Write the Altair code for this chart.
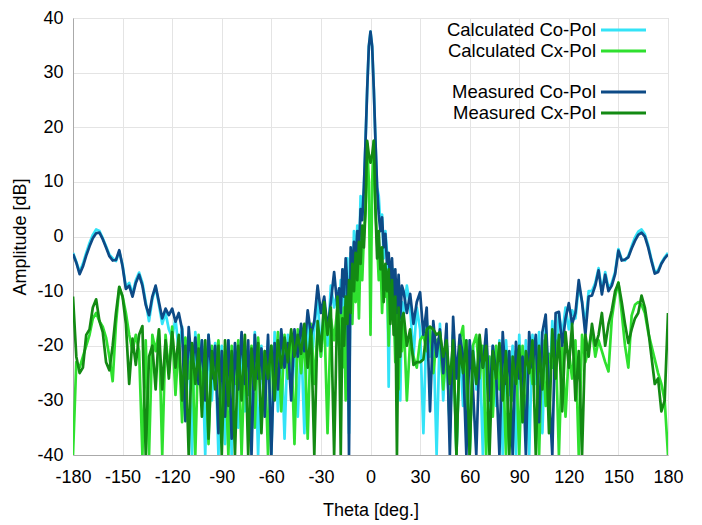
import altair as alt
import pandas as pd

# theta grid: -180..-20 step 2, -19..19 step 1, 20..180 step 2
theta_left = list(range(-180, -19, 2))
theta_mid = list(range(-19, 20, 1))
theta_right = list(range(20, 181, 2))

# Measured Co-Pol
mco_left = [-3.2, -4.8, -6.9, -5.5, -3.5, -1.8, -0.3, 0.6, 0.7, -0.5,
            -2.0, -3.6, -4.4, -4.3, -2.5, -5.5, -9.6, -9.0, -11.0, -8.5,
            -7.0, -9.0, -12.5, -14.4, -11.0, -9.0, -12.0, -15.0, -13.2, -14.4,
            -13.2, -15.6, -14.0, -17.0, -33.8, -16.6, -24.0, -18.5, -27.0, -19.0,
            -30.0, -18.0, -26.0, -20.0, -36.0, -21.0, -33.0, -19.0, -37.0, -19.5,
            -28.0, -17.5, -27.0, -19.0, -40.0, -18.0, -26.0, -20.5, -33.0, -18.0,
            -40.0, -19.5, -28.0, -17.0, -24.0, -19.5, -30.0, -17.0, -22.0, -16.0,
            -21.0, -13.5, -18.0, -15.5, -9.0, -14.0, -11.0, -17.0, -12.0, -6.5,
            -13.0]
mco_mid = [-9.5, -14, -6, -11, -4, -9, -40, -2, -7, -1,
           -5, 1, -3, 5, 3, 9, 17.5, 27, 34.8, 37.5,
           34.8, 27, 17.5, 9, 4, 1, 3.5, -2, 0.5, -5,
           -3, -9, -4, -11, -6, -14, -7, -15, -9]
mco_right = [-10, -14, -10.5, -16, -12, -10.2, -18, -13, -32, -15.5,
             -22, -17, -25, -16, -40, -14.7, -26, -18, -22, -40,
             -19, -28, -40, -20, -24, -17, -30, -20, -25, -40,
             -17.5, -27, -21, -40, -19.3, -26, -22, -40, -17.5, -24,
             -18, -34, -17.5, -14.3, -28, -40, -14, -13.8, -20, -15,
             -12.2, -16, -14, -8, -12, -18, -11, -10.8, -9, -6.2,
             -10.6, -7, -10, -9, -6.9, -2.6, -4.4, -4.2, -3.8, -2.2,
             -0.8, 0.3, 0.7, 0, -2, -4.5, -6.8, -6.5, -5, -4,
             -3.3]

# Calculated Co-Pol
cco_left = [-3.0, -4.6, -6.5, -5.0, -3.0, -1.2, 0.3, 1.3, 1.0, -0.3,
            -1.8, -3.3, -4.0, -4.5, -2.8, -5.2, -9.3, -8.5, -10.5, -8.0,
            -6.6, -8.5, -12.0, -15.5, -11.5, -9.2, -12.5, -16.0, -14.0, -17.0,
            -18.5, -15.0, -21.0, -16.5, -24.0, -19.0, -40.0, -17.5, -26.0, -19.0,
            -40.0, -18.0, -30.0, -19.5, -40.0, -20.0, -38.0, -19.0, -40.0, -20.0,
            -35.0, -18.0, -32.0, -21.0, -35.0, -17.5, -40.0, -20.0, -30.0, -19.0,
            -40.0, -17.5, -32.0, -19.0, -37.0, -18.0, -27.0, -20.0, -33.0, -18.0,
            -36.0, -14.0, -25.0, -17.0, -11.0, -22.0, -12.0, -20.0, -9.0, -13.0,
            -10.0]
cco_mid = [-16, -8, -22, -6, -14, -4, -36, -3, -12, 1,
           -6, 2, -4, 7.4, 4, 9, 17.5, 27, 34.8, 37.5,
           34.8, 27, 17.5, 9, 7.4, 2, 4, -4, 1, -3,
           -27.5, -5, -9, -6, -20, -11, -9, -30, -12]
cco_right = [-14, -9, -13, -22, -13, -17, -36, -15, -22, -17,
             -40, -16, -30, -18.5, -36, -17.5, -40, -19.5, -31, -19,
             -40, -20, -28, -19.5, -40, -18, -35, -20, -31, -19,
             -40, -19, -29, -20, -40, -18, -34, -19, -40, -18,
             -27, -17.5, -36, -16, -30, -15.5, -24, -14, -18, -13,
             -17, -13.5, -15, -9, -12, -16, -10, -10, -8.5, -5.8,
             -10, -6.5, -9.5, -8.5, -6.5, -2.3, -4.2, -4.4, -3.6, -1.8,
             -0.2, 0.9, 1.3, 0.4, -1.6, -4.2, -6.5, -6.2, -4.8, -3.8,
             -3.0]

# Measured Cx-Pol
mcx_left = [-11, -22, -25, -24, -18, -17, -13, -11.5, -15.5, -17.5,
            -23, -24.5, -20, -14, -9.2, -11, -16, -27, -18.7, -23.5,
            -18, -16.4, -40, -22, -20, -28, -17, -28, -19, -26,
            -17.5, -24, -18, -30, -20, -40, -19.5, -27, -20.5, -33,
            -19, -37, -21, -28, -20, -40, -19, -31, -21, -40,
            -20, -30, -18, -40, -20.5, -28, -19.5, -36, -21, -26,
            -20, -30, -19, -24, -18.5, -23, -17, -22, -18, -21.5,
            -16, -24, -17, -40, -15.5, -21, -12, -18, -13, -40,
            -11]
mcx_mid = [-18, -40, -15, -20, -11, -16, -8, -14, -5, -10,
           -3, -8, -1, -5, 2, -2, 5, 17.5, 15, 13.5,
           15, 17.5, 5, -4, 1, -6, -2, -12, -5, -10,
           -6, -16, -8, -18, -11, -40, -13, -22, -15]
mcx_right = [-14, -20, -17, -23.5, -23, -23, -22.5, -17, -16.5, -17,
             -18, -17.5, -22, -19, -27, -19, -40, -20, -25, -19,
             -40, -21, -27, -18, -24, -20, -40, -21, -26, -19.5,
             -30, -21, -40, -22, -27, -20, -34, -21, -25, -19,
             -40, -20, -28, -18, -36, -17, -26, -18, -32, -17.5,
             -24, -16, -30, -21, -40, -18, -22, -16, -20, -18,
             -14, -20, -16, -13.5, -10, -8.5, -12, -16, -19.5, -17,
             -15, -14, -10.8, -13, -17, -22, -27, -26, -32, -30,
             -14]

# Calculated Cx-Pol
ccx_left = [-40, -23, -24, -22, -20, -18, -15, -14, -15.5, -16.5,
            -18.5, -22, -26.5, -16, -9.3, -11, -14, -18, -21, -18,
            -21, -40, -19, -40, -18, -21, -17.2, -40, -18, -25,
            -16.5, -29, -19, -34, -18.5, -26, -20, -40, -18, -29,
            -20.5, -38, -20, -24, -19, -32, -21, -40, -20, -27,
            -19, -40, -21, -29, -20, -35, -18.5, -26, -21, -40,
            -20, -27, -17.5, -32, -18, -26, -19, -38, -17, -25,
            -18, -37, -16, -27, -17, -22, -14, -36, -15, -19,
            -13]
ccx_mid = [-20, -12, -24, -13, -30, -9, -14, -8, -16, -6,
           -12, -4, -15, -2, -8, 0, 5, 17, 10, -18,
           10, 17.5, 5, -1, -8, -3, -14, -6, -11, -8,
           -20, -10, -15, -12, -23, -14, -28, -16, -21]
ccx_right = [-14.4, -30, -19, -22, -24, -19, -18, -21, -17, -25,
             -19, -18.5, -28, -20, -35, -18, -40, -19, -16.4, -30,
             -40, -20, -18, -26, -20, -40, -22, -33, -20, -28,
             -21, -40, -22, -30, -21, -40, -20, -35, -21, -27,
             -20, -40, -19, -31, -21.5, -24, -19, -40, -20, -33,
             -21, -26, -19, -40, -18, -23, -20.5, -17, -22, -19,
             -21, -23, -24.7, -15, -11, -8.4, -14, -20, -24, -14.5,
             -12.5, -12, -12.5, -14, -17.5, -20, -22.5, -25, -27, -30,
             -40]

series_names = ["Calculated Co-Pol", "Calculated Cx-Pol", "Measured Co-Pol", "Measured Cx-Pol"]
series_colors = ["#33e3f7", "#2fe02f", "#0d4a86", "#138a13"]

theta = theta_left + theta_mid + theta_right
series_values = [
    cco_left + cco_mid + cco_right,
    ccx_left + ccx_mid + ccx_right,
    mco_left + mco_mid + mco_right,
    mcx_left + mcx_mid + mcx_right,
]
for name, vals in zip(series_names, series_values):
    if len(vals) != len(theta):
        raise ValueError(f"{name}: {len(vals)} vs {len(theta)}")

W, H = 595, 437
FONT = "Liberation Sans"

x_enc = alt.X("theta:Q", scale=alt.Scale(domain=[-180, 180], nice=False),
              axis=alt.Axis(values=list(range(-180, 181, 30)), title="Theta [deg.]",
                            labelExpr="datum.value + ''", labelOverlap=False, labelFlush=False,
                            labelPadding=13, titlePadding=15))
y_enc = alt.Y("db:Q", scale=alt.Scale(domain=[-40, 40], nice=False),
              axis=alt.Axis(values=list(range(-40, 41, 10)), title="Amplitude [dB]",
                            labelExpr="datum.value + ''", labelFlush=False,
                            labelPadding=10, titlePadding=7))

layers = []
for i, (name, vals, col) in enumerate(zip(series_names, series_values, series_colors)):
    df = pd.DataFrame({"theta": theta, "db": vals})
    enc = dict(x=x_enc, y=y_enc) if i == 0 else dict(x="theta:Q", y="db:Q")
    layers.append(
        alt.Chart(df).mark_line(color=col, strokeWidth=2.7, clip=True, strokeJoin="round").encode(**enc)
    )

# legend (inside top-right of the plot area)
legend_rows = [12, 33, 74, 95]
for name, col, ly in zip(series_names, series_colors, legend_rows):
    ldf = pd.DataFrame({"label": [name]})
    layers.append(
        alt.Chart(ldf).mark_text(align="right", baseline="middle", fontSize=18.5, font=FONT, color="black")
        .encode(x=alt.value(523), y=alt.value(ly), text="label:N")
    )
    layers.append(
        alt.Chart(ldf).mark_rule(color=col, strokeWidth=2.8)
        .encode(x=alt.value(528), x2=alt.value(573), y=alt.value(ly))
    )

chart = alt.layer(*layers).properties(
    width=W, height=H,
    autosize=alt.AutoSizeParams(type="none"),
    padding={"left": 65, "top": 10, "right": 26, "bottom": 70},
).configure_axis(
    labelFont=FONT, titleFont=FONT, labelFontSize=18, titleFontSize=18,
    labelColor="black", titleColor="black", titleFontWeight="normal",
    gridColor="#e4e4e4", domainColor="#aaaaaa", ticks=False, tickSize=0,
).configure_view(stroke="#cfcfcf")

chart.save("out.html", embed_options={"renderer": "svg", "actions": False})
